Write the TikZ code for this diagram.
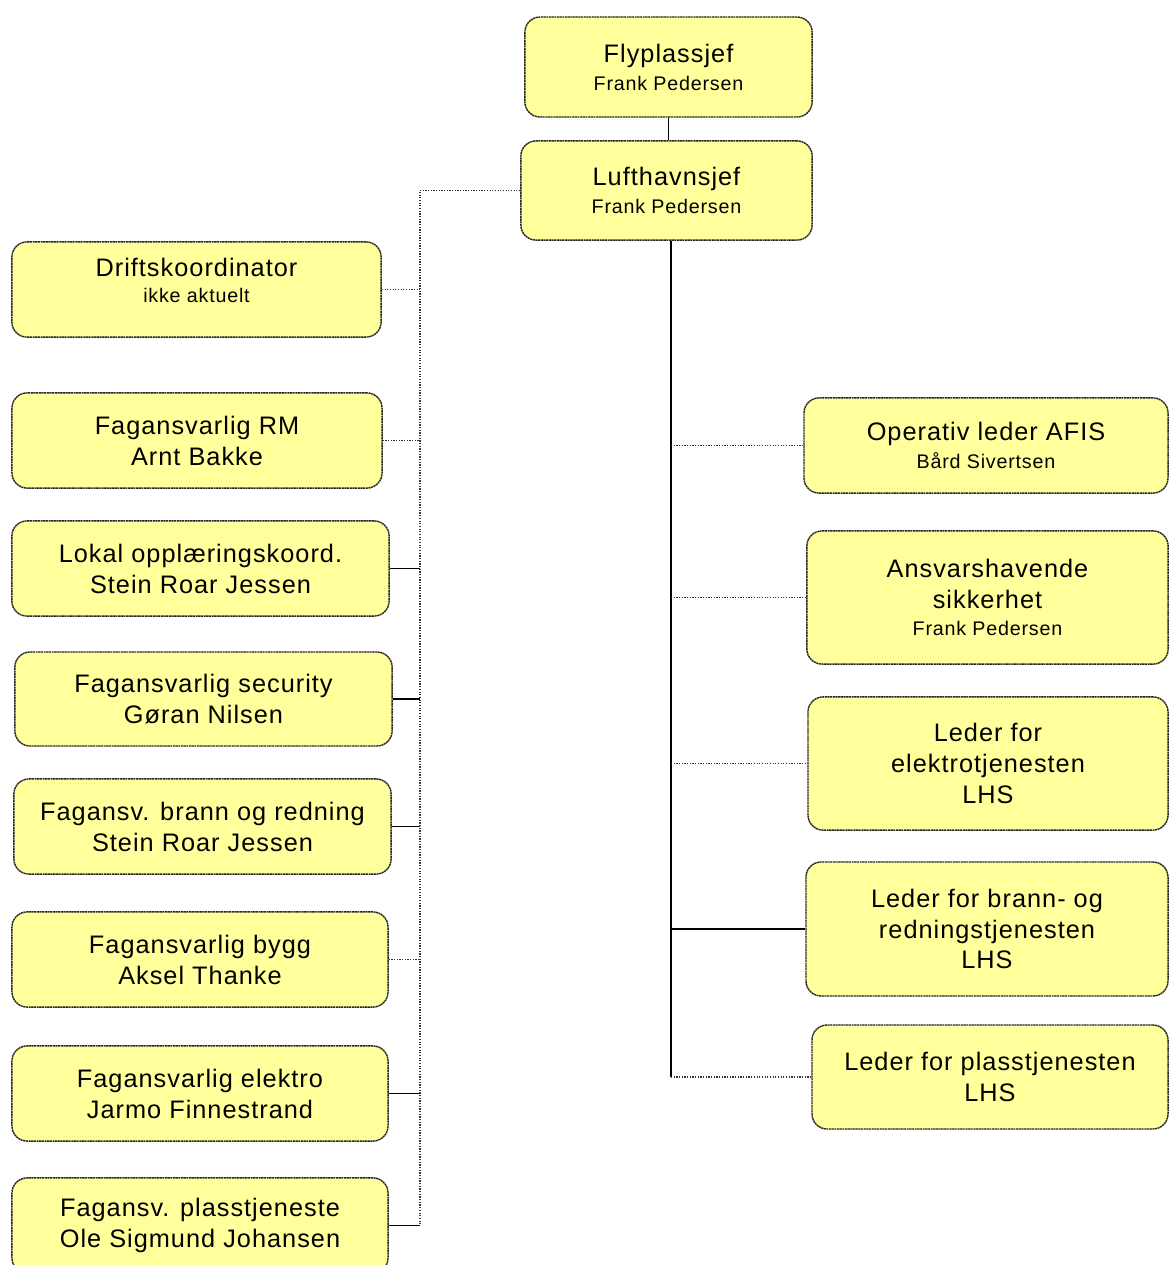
\documentclass[tikz,border=0pt]{standalone}
\usepackage{fontspec}
\setmainfont{Liberation Sans}[LetterSpace=4]
\newcommand{\rl}{\fontsize{18}{22}\selectfont}
\newcommand{\nm}{\fontsize{14}{17}\selectfont}
\definecolor{boksgul}{RGB}{255,255,156}
\begin{document}
\begin{tikzpicture}[x=0.025cm,y=-0.025cm,
  boks/.style={draw=black!85,line width=1pt,dash pattern=on 1.5pt off 0.4pt,fill=boksgul,rounded corners=0.38cm,align=center,font=\rl,inner sep=0pt},
  hel/.style={draw=black,line width=0.75pt},
  prikk/.style={draw=black!80,line width=0.9pt,densely dotted}]
\useasboundingbox (0,0) rectangle (1170,1265);
\clip (0,0) rectangle (1170,1265);
% ledelse
\node[boks,minimum width=7.18cm,minimum height=2.5cm] (fly) at (668.5,67) {Flyplassjef\\[-2pt]{\nm Frank Pedersen}};
\node[boks,minimum width=7.28cm,minimum height=2.48cm] (luft) at (666.5,190.5) {Lufthavnsjef\\[-2pt]{\nm Frank Pedersen}};
% venstre side
\node[boks,minimum width=9.23cm,minimum height=2.38cm] (drift) at (196.5,289.5) {Driftskoordinator\\[-3pt]{\nm ikke aktuelt}\\[-9pt]};
\node[boks,minimum width=9.25cm,minimum height=2.38cm] (rm) at (197,440.5) {Fagansvarlig RM\\Arnt Bakke};
\node[boks,minimum width=9.43cm,minimum height=2.38cm] (lokal) at (200.5,568.5) {Lokal opplæringskoord.\\Stein Roar Jessen};
\node[boks,minimum width=9.43cm,minimum height=2.35cm] (sec) at (203.5,699) {Fagansvarlig security\\Gøran Nilsen};
\node[boks,minimum width=9.43cm,minimum height=2.38cm] (brann) at (202.5,826.5) {Fagansv. brann og redning\\Stein Roar Jessen};
\node[boks,minimum width=9.4cm,minimum height=2.38cm] (bygg) at (200,959.5) {Fagansvarlig bygg\\Aksel Thanke};
\node[boks,minimum width=9.4cm,minimum height=2.38cm] (elektro) at (200,1093.5) {Fagansvarlig elektro\\Jarmo Finnestrand};
\node[boks,minimum width=9.4cm,minimum height=2.38cm] (plass) at (200,1225.5) {Fagansv. plasstjeneste\\Ole Sigmund Johansen};
% hoyre side
\node[boks,minimum width=9.1cm,minimum height=2.38cm] (afis) at (986,445.5) {Operativ leder AFIS\\[-2pt]{\nm Bård Sivertsen}};
\node[boks,minimum width=9.03cm,minimum height=3.33cm] (ansv) at (987.5,597.5) {Ansvarshavende\\sikkerhet\\[-3pt]{\nm Frank Pedersen}};
\node[boks,minimum width=9cm,minimum height=3.33cm] (lelek) at (988,763.5) {Leder for\\elektrotjenesten\\LHS};
\node[boks,minimum width=9.05cm,minimum height=3.35cm] (lbrann) at (987,929) {Leder for brann- og\\redningstjenesten\\LHS};
\node[boks,minimum width=8.9cm,minimum height=2.6cm] (lplass) at (990,1077) {Leder for plasstjenesten\\LHS};
% linjer
\coordinate (lt) at (420,0);
\coordinate (rt) at (671,0);
\draw[hel] (fly.south) -- (fly.south |- luft.north);
\draw[prikk] (luft.west) -| (lt |- plass.east);
\draw[hel] (rt |- luft.south) -- (rt |- lplass.west);
\foreach \n/\s in {drift/prikk,rm/prikk,lokal/hel,sec/hel,brann/hel,bygg/prikk,elektro/hel,plass/hel}
  \draw[\s] (\n.east) -- (\n.east -| lt);
\foreach \n/\s in {afis/prikk,ansv/prikk,lelek/prikk,lbrann/hel,lplass/prikk}
  \draw[\s] (rt |- \n.west) -- (\n.west);
\end{tikzpicture}
\end{document}
